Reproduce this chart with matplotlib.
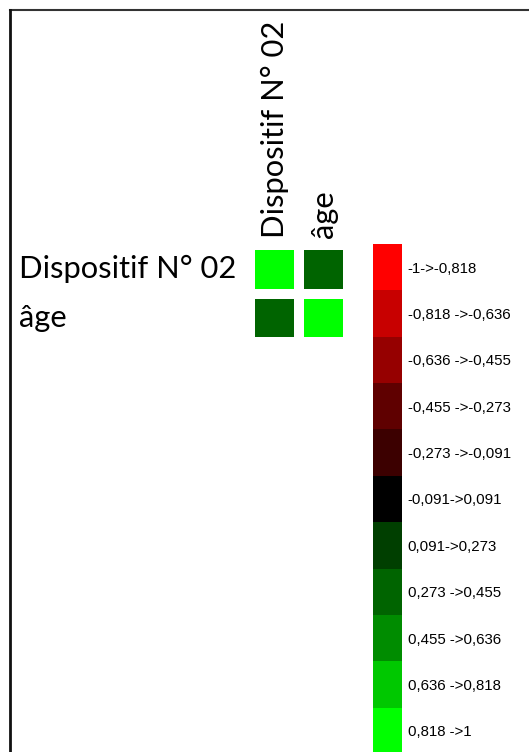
import numpy as np
import matplotlib
matplotlib.use("Agg")
import matplotlib.pyplot as plt
from matplotlib.colors import ListedColormap, BoundaryNorm
from matplotlib.transforms import blended_transform_factory
from matplotlib.lines import Line2D

W, H = 529, 752

variables = ["Dispositif N° 02", "âge"]
corr = np.array([[1.0, 0.36],
                 [0.36, 1.0]])

bounds = [-1, -0.818, -0.636, -0.455, -0.273, -0.091, 0.091, 0.273, 0.455, 0.636, 0.818, 1]
bin_labels = ["-1->-0,818", "-0,818 ->-0,636", "-0,636 ->-0,455", "-0,455 ->-0,273",
              "-0,273 ->-0,091", "-0,091->0,091", "0,091->0,273", "0,273 ->0,455",
              "0,455 ->0,636", "0,636 ->0,818", "0,818 ->1"]
bin_colors = ["#ff0000", "#c80000", "#960000", "#5f0000", "#3c0000", "#000000",
              "#003f00", "#006400", "#008c00", "#00c800", "#00ff00"]

cmap = ListedColormap(bin_colors)
norm = BoundaryNorm(bounds, cmap.N)


def px_axes(fig, x, y, w, h):
    return fig.add_axes([x / W, 1 - (y + h) / H, w / W, h / H])


fig = plt.figure(figsize=(W / 100, H / 100), dpi=100)
fig.patch.set_facecolor("white")

# frame lines (top and left only)
fig.add_artist(Line2D([10 / W, 1], [1 - 10 / H, 1 - 10 / H], color="#333333", lw=1.5))
fig.add_artist(Line2D([10 / W, 10 / W], [0, 1 - 10 / H], color="#111111", lw=2))

# correlation matrix
ax = px_axes(fig, 250, 245, 98, 97)
n = len(variables)
ax.pcolormesh(np.arange(n + 1), np.arange(n + 1), corr, cmap=cmap, norm=norm,
              edgecolors="white", linewidth=7.2)
ax.set_xlim(0, n)
ax.set_ylim(n, 0)
ax.axis("off")

row_tr = blended_transform_factory(fig.transFigure, ax.transData)
col_tr = blended_transform_factory(ax.transData, fig.transFigure)
for i, name in enumerate(variables):
    ax.text(19 / W, i + 0.5, name, transform=row_tr, ha="left", va="center",
            fontsize=22.2, family="Lato", clip_on=False)
    ax.text(i + 0.5, 1 - 238 / H, name, transform=col_tr, ha="center", va="bottom",
            rotation=90, fontsize=22.2, family="Lato", clip_on=False)

# legend scale
cax = px_axes(fig, 373, 244, 29, 510)
centers = np.arange(len(bin_colors)) + 0.5
cax.pcolormesh([0, 1], np.arange(len(bin_colors) + 1),
               np.array(bounds[:-1])[:, None] + 0.01, cmap=cmap, norm=norm)
cax.set_xlim(0, 1)
cax.set_ylim(len(bin_colors), 0)
for s in cax.spines.values():
    s.set_visible(False)
cax.set_xticks([])
cax.yaxis.tick_right()
cax.set_yticks(centers)
cax.set_yticklabels(bin_labels, family="Liberation Sans", fontsize=10.8)
cax.tick_params(axis="y", length=0, pad=4)

fig.savefig("out.png", dpi=100)
